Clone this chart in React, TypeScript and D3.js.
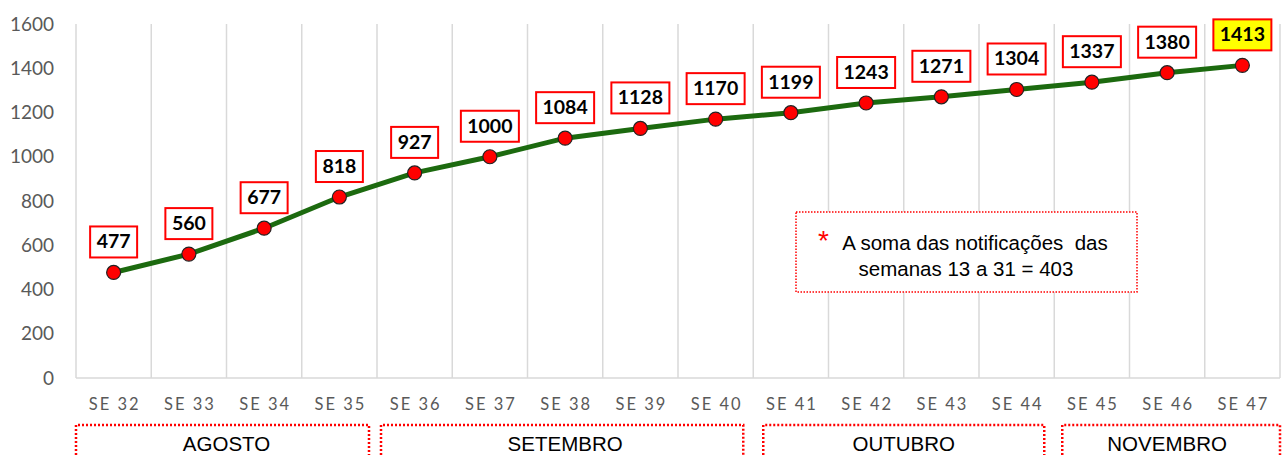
import React, { useEffect, useRef } from 'react'
import * as d3 from 'd3'

const weeks = ['SE 32', 'SE 33', 'SE 34', 'SE 35', 'SE 36', 'SE 37', 'SE 38', 'SE 39',
  'SE 40', 'SE 41', 'SE 42', 'SE 43', 'SE 44', 'SE 45', 'SE 46', 'SE 47']
const notifications = [477, 560, 677, 818, 927, 1000, 1084, 1128, 1170, 1199, 1243, 1271,
  1304, 1337, 1380, 1413]
const yTicks = [0, 200, 400, 600, 800, 1000, 1200, 1400, 1600]

// months span week ranges (first, last)
const months = ['AGOSTO', 'SETEMBRO', 'OUTUBRO', 'NOVEMBRO']
const monthStart = ['SE 32', 'SE 36', 'SE 41', 'SE 45']
const monthEnd = ['SE 35', 'SE 40', 'SE 44', 'SE 47']

const noteLines = ['A soma das notificações  das', 'semanas 13 a 31 = 403']

function App() {
  const ref = useRef<SVGSVGElement>(null)

  useEffect(() => {
    if (!ref.current) return
    const W = 1288, H = 455
    const margin = { left: 76, right: 8, top: 24, bottom: 77 }
    const width = W - margin.left - margin.right
    const height = H - margin.top - margin.bottom

    const svg = d3.select(ref.current)
    svg.selectAll('*').remove()
    const chart = svg.append('g')
      .attr('transform', `translate(${margin.left}, ${margin.top})`)

    const x = d3.scaleBand().domain(weeks).range([0, width])
    const y = d3.scaleLinear().domain([0, 1600]).range([height, 0])
    const cx = (w: string) => (x(w) as number) + x.bandwidth() / 2

    // vertical gridlines at band edges
    const edges = weeks.map(w => x(w) as number).concat([width])
    chart.append('g').selectAll('line').data(edges).join('line')
      .attr('x1', d => d).attr('x2', d => d)
      .attr('y1', 0).attr('y2', height)
      .attr('stroke', '#d9d9d9').attr('stroke-width', 1.5)
    chart.append('line')
      .attr('x1', 0).attr('x2', width).attr('y1', height).attr('y2', height)
      .attr('stroke', '#d9d9d9').attr('stroke-width', 1.5)

    // y axis labels
    chart.append('g').selectAll('text').data(yTicks).join('text')
      .attr('x', -22).attr('y', d => y(d))
      .attr('dy', '0.35em').attr('text-anchor', 'end')
      .attr('font-family', 'Lato').attr('font-size', 19).attr('fill', '#595959')
      .text(d => d)

    // x axis labels
    chart.append('g').selectAll('text').data(weeks).join('text')
      .attr('x', d => cx(d) + 1).attr('y', height + 32)
      .attr('text-anchor', 'middle')
      .attr('font-family', 'Lato').attr('font-size', 16.5).attr('fill', '#595959')
      .attr('letter-spacing', 2)
      .text(d => d)

    // line
    const line = d3.line<number>()
      .x((d, i) => cx(weeks[i]))
      .y(d => y(d))
    chart.append('path').datum(notifications)
      .attr('d', line)
      .attr('fill', 'none').attr('stroke', '#1c6a0f').attr('stroke-width', 5)

    chart.append('g').selectAll('circle').data(notifications).join('circle')
      .attr('cx', (d, i) => cx(weeks[i])).attr('cy', d => y(d))
      .attr('r', 7).attr('fill', '#ff0000').attr('stroke', '#222').attr('stroke-width', 1.2)

    // data labels
    const labels = chart.append('g').selectAll('g').data(notifications).join('g')
      .attr('transform', (d, i) => `translate(${cx(weeks[i])}, ${y(d) - 31})`)
    labels.append('rect')
      .attr('x', d => -(String(d).length * 11 + 14) / 2)
      .attr('width', d => String(d).length * 11 + 14)
      .attr('y', -15).attr('height', 31)
      .attr('fill', (d, i) => i === notifications.length - 1 ? '#ffff00' : '#fff')
      .attr('stroke', '#ff0000').attr('stroke-width', 2)
    labels.append('text')
      .attr('text-anchor', 'middle').attr('dy', '0.35em')
      .attr('font-family', 'Lato').attr('font-weight', 'bold').attr('font-size', 19.5)
      .attr('fill', '#000')
      .text(d => d)

    // note box
    const note = chart.append('g')
    note.append('rect')
      .attr('x', 720).attr('y', 188).attr('width', 341).attr('height', 80)
      .attr('fill', '#fff').attr('stroke', '#ff0000').attr('stroke-width', 1.5)
      .attr('stroke-dasharray', '1.5 1.5')
    note.append('text')
      .attr('x', 742).attr('y', 226)
      .attr('font-family', 'Liberation Sans').attr('font-size', 28).attr('fill', '#ff0000')
      .text('*')
    note.selectAll('text.line').data(noteLines).join('text')
      .attr('class', 'line')
      .attr('x', (d, i) => i === 0 ? 899 : 890).attr('y', (d, i) => 226 + i * 26)
      .attr('text-anchor', 'middle')
      .style('white-space', 'pre')
      .attr('font-family', 'Liberation Sans').attr('font-size', 20.5).attr('fill', '#000')
      .text(d => d)

    // month brackets
    const mg = chart.append('g').selectAll('g').data(months).join('g')
    const padL = [0, 4, 10, 8]
    const padR = [8, 10, 10, 0]
    mg.append('path')
      .attr('d', (d, i) => {
        const x0 = (x(monthStart[i]) as number) + padL[i]
        const x1 = (x(monthEnd[i]) as number) + x.bandwidth() - padR[i]
        const top = height + 47
        return `M${x0},${H}V${top}H${x1}V${H}`
      })
      .attr('fill', 'none').attr('stroke', '#ff0000').attr('stroke-width', 2.5)
      .attr('stroke-dasharray', '2 2')
    mg.append('text')
      .attr('x', (d, i) => ((x(monthStart[i]) as number) + (x(monthEnd[i]) as number) + x.bandwidth()) / 2)
      .attr('y', height + 73)
      .attr('text-anchor', 'middle')
      .attr('font-family', 'Liberation Sans').attr('font-size', 20.5).attr('fill', '#000')
      .text(d => d)
  }, [])

  return <svg ref={ref} width={1288} height={455} style={{ position: 'absolute', left: 0, top: 0 }} />
}

export default App
